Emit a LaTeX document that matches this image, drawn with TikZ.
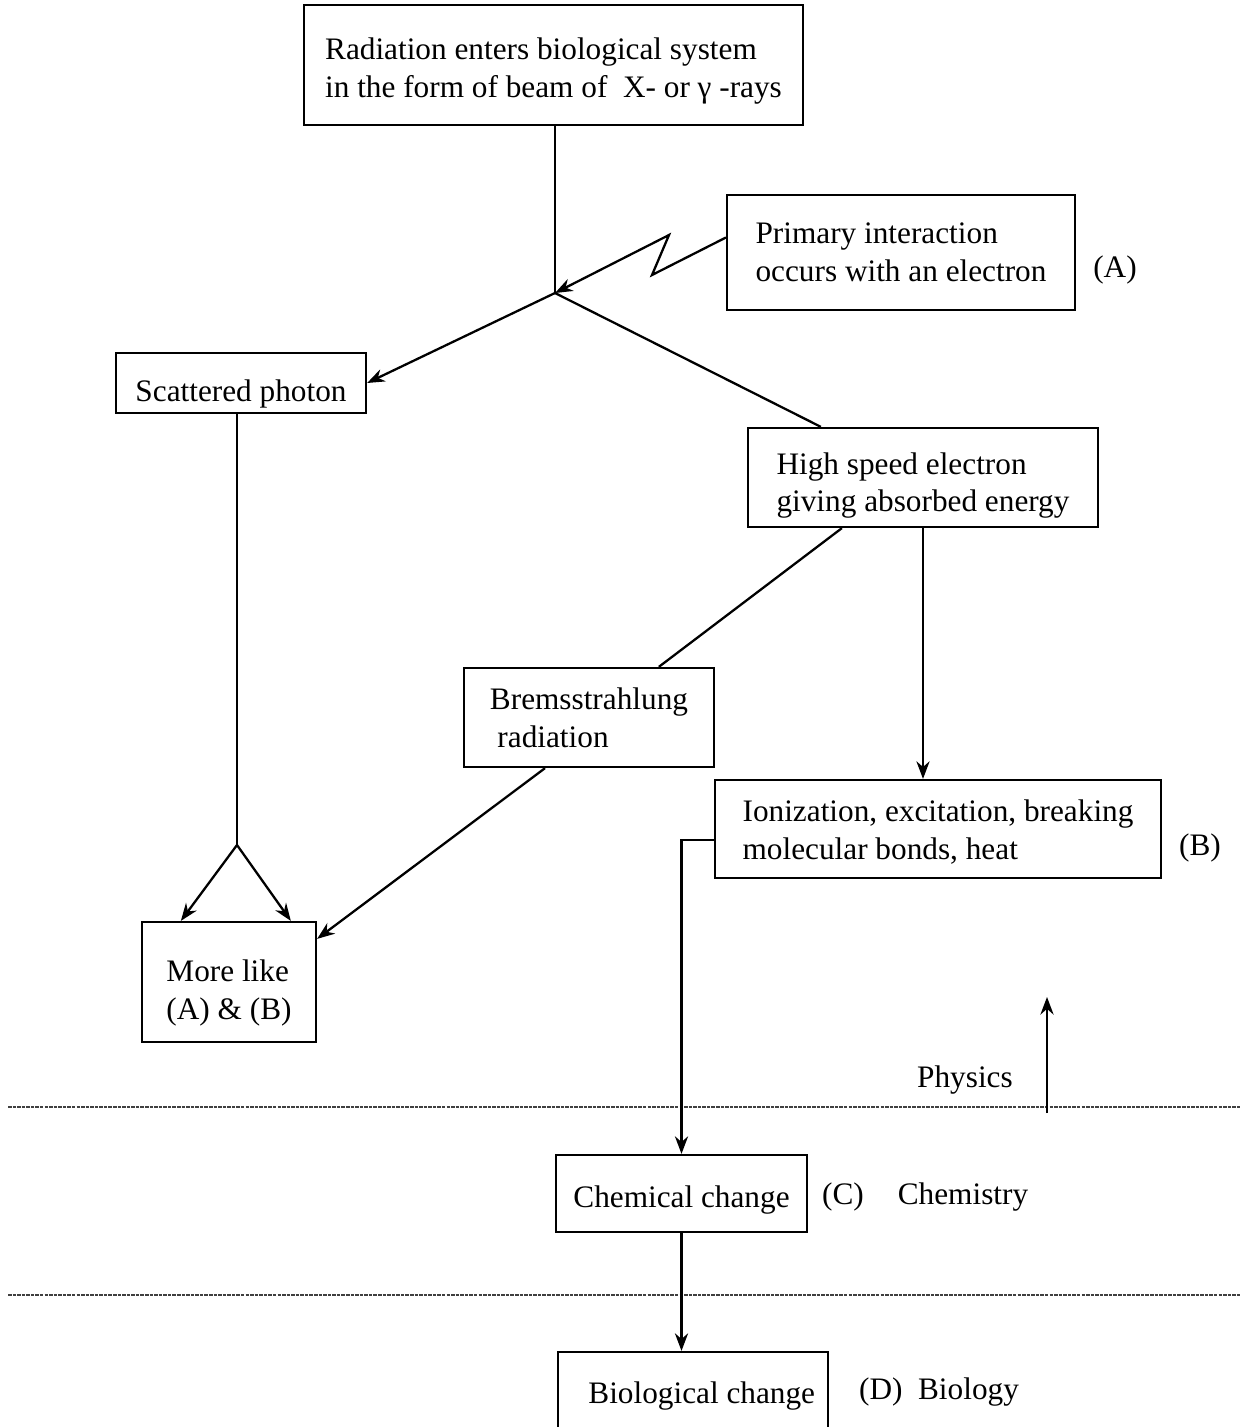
\documentclass[tikz,border=0pt]{standalone}
\usepackage{fontspec}
\setmainfont{Liberation Serif}
\usepackage{tikz}
\usetikzlibrary{arrows.meta}

\begin{document}
\begin{tikzpicture}[x=0.02cm,y=-0.02cm,>={Stealth[length=10pt,width=7.5pt]},
    font=\fontsize{17.8}{21.5}\selectfont,line width=1.3pt,
    box/.style={draw,align=left,inner sep=0pt,
        execute at begin node={\rule{0pt}{#1}}},
    box/.default=0pt,
    border/.style={line width=0.6pt,black!75,dash pattern=on 2pt off 0.6pt}]
    \useasboundingbox (0,0) rectangle (1248,1427);

    % boxes
    \node[box=40.6pt,minimum width=9.98cm,minimum height=2.4cm] (rad) at (553.5,65)
        {Radiation enters biological system\\in the form of beam of \ X- or γ -rays};
    \node[box,minimum width=6.96cm,minimum height=2.3cm] (prim) at (901,252.5)
        {Primary interaction\\occurs with an electron\hspace{0.4cm}};
    \node[box=24.8pt,minimum width=5cm,minimum height=1.2cm] (scat) at (241,383)
        {Scattered photon};
    \node[box=42.9pt,minimum width=7cm,minimum height=1.98cm] (fast) at (923,477.5)
        {High speed electron\\giving absorbed energy\hspace{0.3cm}};
    \node[box,minimum width=5cm,minimum height=1.98cm] (brems) at (589,717.5)
        {Bremsstrahlung\\\hspace{0.15cm}radiation};
    \node[box=37.2pt,minimum width=8.92cm,minimum height=1.96cm] (ion) at (938,829)
        {Ionization, excitation, breaking\\molecular bonds, heat};
    \node[box=46.3pt,minimum width=3.48cm,minimum height=2.4cm] (more) at (229,982)
        {More like\\(A) \& (B)};
    \node[box=20.3pt,minimum width=5.02cm,minimum height=1.54cm] (chem) at (681.5,1193.5)
        {Chemical change};
    \node[box,minimum width=5.4cm,minimum height=1.76cm] (bio) at (693,1396)
        {\hspace*{0.35cm}Biological change};

    % side labels
    \node (labA) at (1115,270) {(A)};
    \node (labB) at (1200,848) {(B)};
    \node (labC) at (843,1197) {(C)};
    \node (chemtxt) at (963,1197) {Chemistry};
    \node (labD) at (939,1392) {(D)\ \ Biology};
    \node (phys) at (965,1080) {Physics};

    % physics / chemistry / biology borders
    \draw[border] (8,1107) -- (1240,1107);
    \draw[border] (8,1295) -- (1240,1295);

    % connectors
    \coordinate (split) at (555,293);
    \coordinate (fork) at (237,845);
    \draw (rad.south -| split) -- (split);
    \draw[->] ([yshift=0.3cm]prim.west) -- (652,275) -- (669,235) -- (split);
    \draw[->] (split) -- (scat.east);
    \draw (split) -- ([xshift=1.48cm]fast.north west);
    \draw (scat.south -| fork) -- (fork);
    \draw[->] (fork) -- ([xshift=0.8cm]more.north west);
    \draw[->] (fork) -- ([xshift=3cm]more.north west);
    \draw ([xshift=1.9cm]fast.south west) -- ([xshift=3.92cm]brems.north west);
    \draw[->] (fast.south) -- (fast.south |- ion.north);
    \draw[->] ([xshift=-0.88cm]brems.south) -- ([yshift=-0.36cm]more.north east);
    \draw[->] ([yshift=-0.22cm]ion.west) -| (chem.north);
    \draw[->] (chem.south) -- (chem.south |- bio.north);
    \coordinate (physfoot) at (1047,1113);
    \draw[->] (physfoot) -- ++(0,-116);
\end{tikzpicture}
\end{document}
